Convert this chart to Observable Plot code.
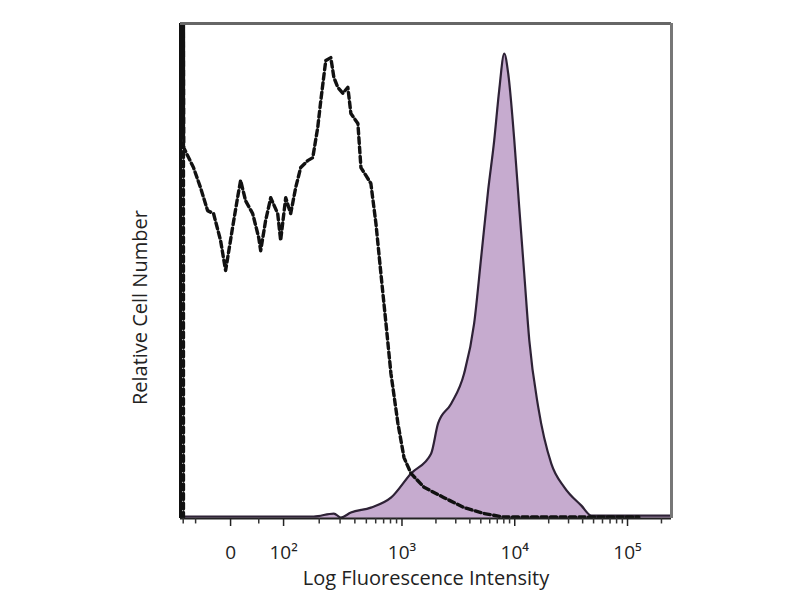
<!DOCTYPE html>
<html>
<head>
<meta charset="utf-8">
<script src="https://cdn.jsdelivr.net/npm/d3@7"></script>
<script src="https://cdn.jsdelivr.net/npm/@observablehq/plot@0.6"></script>
<style>
  html, body { margin: 0; padding: 0; background: #fff; }
  #chart { width: 800px; height: 600px; }
</style>
</head>
<body>
<div id="chart"></div>
<script>
// Display position on the (logicle-like) axis, in decade units
const stainedX = [1.04, 1.062, 2.218, 2.396, 2.458, 2.547, 2.724, 2.902, 3.080, 3.258, 3.320, 3.436, 3.551, 3.640, 3.702, 3.764, 3.818, 3.862, 3.907, 3.942, 3.996, 4.040, 4.084, 4.129, 4.209, 4.324, 4.440, 4.591, 4.680, 5.213, 5.39];
const stainedY = [0.4, 0.4, 0.4, 1.0, 0.2, 1.2, 2.2, 4.2, 9.1, 13.1, 19.2, 23.2, 29.3, 39.4, 52.7, 66.3, 76.4, 86.5, 93.9, 89.9, 76.4, 62.8, 49.5, 36.0, 22.4, 11.1, 6.3, 2.6, 0.6, 0.6, 0.6];

const controlX = [1.062, 1.062, 1.065, 1.151, 1.213, 1.276, 1.329, 1.391, 1.436, 1.498, 1.542, 1.569, 1.613, 1.676, 1.729, 1.747, 1.791, 1.836, 1.898, 1.924, 1.969, 2.013, 2.058, 2.102, 2.164, 2.209, 2.253, 2.280, 2.324, 2.369, 2.396, 2.431, 2.476, 2.520, 2.547, 2.609, 2.636, 2.724, 2.769, 2.813, 2.858, 2.902, 2.964, 3.018, 3.080, 3.196, 3.373, 3.551, 3.729, 3.9, 5.1];
const controlY = [0, 100, 74.9, 70.9, 66.9, 62.2, 61.6, 56.2, 50.1, 58.8, 64.8, 68.3, 64.2, 61.6, 56.8, 54.1, 60.2, 64.8, 61.6, 56.2, 64.8, 61.6, 66.9, 70.9, 72.3, 72.9, 79.0, 84.4, 92.5, 93.1, 89.1, 87.1, 85.9, 87.1, 81.8, 79.8, 70.9, 67.7, 59.6, 49.5, 39.4, 29.3, 19.2, 12.3, 9.1, 6.3, 4.2, 2.2, 1.0, 0.3, 0.3];

const majorTicks = [1.48, 1.95, 3, 4, 5];
const majorLabels = ["0", "10²", "10³", "10⁴", "10⁵"];
const minorValues = [200, 300, 400, 500, 600, 700, 800, 900,
                     2000, 3000, 4000, 5000, 6000, 7000, 8000, 9000,
                     20000, 30000, 40000, 50000, 60000, 70000, 80000, 90000, 200000];
const negTicks = [1.06, 1.17, 1.73];

const xDomain = [1.036, 5.39];
const yDomain = [0, 100];

const pos = v => v >= 1000 ? Math.log10(v) : 1.95 + (Math.log10(v) - 2) * 1.05;
const minorTicks = negTicks.concat(minorValues.map(pos)).filter(t => t < xDomain[1]);

const stained = stainedX.map((x, i) => ({x, y: stainedY[i]}));
const control = controlX.map((x, i) => ({x, y: controlY[i]}));

const chart = Plot.plot({
  width: 800,
  height: 600,
  marginLeft: 180,
  marginRight: 129,
  marginTop: 23,
  marginBottom: 82,
  style: {fontFamily: "'Open Sans', sans-serif", background: "#fff"},
  x: {domain: xDomain, axis: null},
  y: {domain: yDomain, axis: null},
  marks: [
    Plot.areaY(stained, {x: "x", y: "y", fill: "#c6abcf", curve: "monotone-x", clip: true}),
    Plot.lineY(stained, {x: "x", y: "y", stroke: "#2e2236", strokeWidth: 2.2, curve: "monotone-x", clip: true}),
    Plot.lineY(control, {x: "x", y: "y", stroke: "#111", strokeWidth: 3.4, strokeDasharray: "6,3.5", clip: true}),
    Plot.ruleX([xDomain[0]], {stroke: "#111", strokeWidth: 3}),
    Plot.ruleY([yDomain[0]], {stroke: "#222", strokeWidth: 2}),
    Plot.ruleY([yDomain[1]], {stroke: "#666", strokeWidth: 3}),
    Plot.ruleX([xDomain[1]], {stroke: "#777", strokeWidth: 3}),
    Plot.ruleX(minorTicks, {x: d => d, y1: 0, y2: -1.1, stroke: "#333", strokeWidth: 1.5}),
    Plot.axisX(majorTicks, {
      tickSize: 8, tickPadding: 19, fontSize: 19, stroke: "#222", strokeWidth: 1.5, fill: "#222",
      tickFormat: d => majorLabels[majorTicks.indexOf(d)], label: null
    }),
    Plot.text(["Log Fluorescence Intensity"], {frameAnchor: "bottom", dy: 66, fontSize: 20, fill: "#222", text: d => d}),
    Plot.text(["Relative Cell Number"], {x: xDomain[0], y: 42.6, rotate: -90, dx: -40, fontSize: 20, fill: "#222", text: d => d})
  ]
});
document.getElementById("chart").appendChild(chart);
</script>
</body>
</html>
